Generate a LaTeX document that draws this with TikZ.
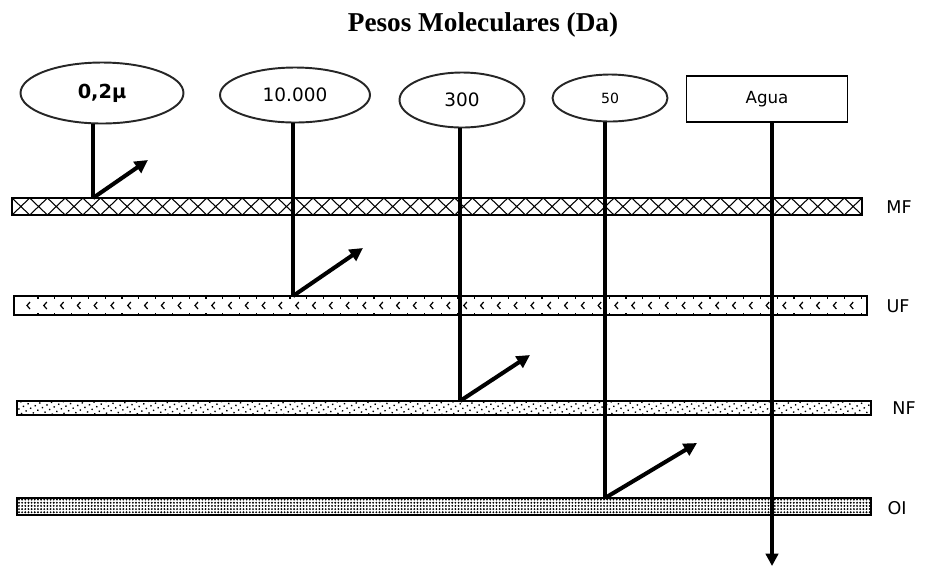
\documentclass[tikz,border=0pt]{standalone}
\usepackage{fontspec}
\setmainfont{DejaVu Sans}
\newfontfamily\titlefont{Liberation Serif}
\usetikzlibrary{shapes.geometric,arrows.meta,patterns.meta}

\begin{document}
\begin{tikzpicture}[x=0.02cm,y=-0.02cm,
  mol/.style={ellipse,draw=black!85,line width=1.1pt,inner sep=0pt},
  waterbox/.style={rectangle,draw=black,line width=1.1pt,inner sep=0pt},
  memb/.style={rectangle,draw=black,line width=1.1pt,inner sep=0pt},
  memlabel/.style={font=\fontsize{10}{12}\selectfont},
  stem/.style={line width=2pt},
  pass/.style={line width=2.3pt,-{Triangle[length=7.5pt,width=7.5pt]}}]
\useasboundingbox (0,0) rectangle (925,566);
\node [font=\titlefont\bfseries\fontsize{15.5}{18}\selectfont] (title) at (483,25) {Pesos Moleculares (Da)};
\node [mol,minimum width=3.26cm,minimum height=1.22cm,font=\bfseries\fontsize{11}{13}\selectfont] (m02) at (102,93) {0,2µ};
\node [mol,minimum width=3.0cm,minimum height=1.1cm,font=\fontsize{10.5}{12}\selectfont] (m10000) at (295,95) {10.000};
\node [mol,minimum width=2.5cm,minimum height=1.1cm,font=\fontsize{10.5}{12}\selectfont] (m300) at (462,100) {300};
\node [mol,minimum width=2.3cm,minimum height=0.94cm,font=\fontsize{8}{10}\selectfont] (m50) at (610,98) {50};
\node [waterbox,minimum width=3.22cm,minimum height=0.92cm,font=\fontsize{9.5}{11}\selectfont] (agua) at (767,99) {Agua};
\node [memb,minimum width=17cm,minimum height=0.34cm] (mf) at (437,206.5) {};
\foreach \i in {0,...,47}
  \draw [line width=0.6pt] (12+\i*17.708,198) -- ++(17.708,17) (12+\i*17.708,215) -- ++(17.708,-17);
\node [memb,minimum width=17.06cm,minimum height=0.38cm] (uf) at (440.5,305.5) {};
\foreach \i in {0,...,49} {
  \draw [line width=0.7pt] (30+\i*16.8,302) -- ++(-3,3.5) -- ++(3,3.5);
  \draw [line width=0.7pt] (38+\i*16.8,296) -- ++(0,2.5) (38+\i*16.8,315) -- ++(0,-2.5);
}
\node [memb,pattern={Dots[distance=3pt,radius=0.55pt,angle=30]},minimum width=17.08cm,minimum height=0.28cm] (nf) at (444,408) {};
\node [memb,pattern={Dots[distance=1.8pt,radius=0.6pt]},minimum width=17.08cm,minimum height=0.34cm] (oi) at (444,506.5) {};
\node [memlabel] (lmf) at (899,207) {MF};
\node [memlabel] (luf) at (898,306) {UF};
\node [memlabel] (lnf) at (904,408) {NF};
\node [memlabel] (loi) at (897,508) {OI};
\coordinate (s1) at (93,198);
\coordinate (s2) at (293,296);
\coordinate (s3) at (460,401);
\coordinate (s4) at (605,498);
\coordinate (t1) at (148,160);
\coordinate (t2) at (363,248);
\coordinate (t3) at (530,355);
\coordinate (t4) at (697,443);
\coordinate (t5) at (772,566);
\draw [stem] (s1 |- m02.south) -- (s1);
\draw [stem] (s2 |- m10000.south) -- (s2);
\draw [stem] (s3 |- m300.south) -- (s3);
\draw [stem] (s4 |- m50.south) -- (s4);
\draw [pass] (s1) -- (t1);
\draw [pass] (s2) -- (t2);
\draw [pass] (s3) -- (t3);
\draw [pass] (s4) -- (t4);
\draw [stem,-{Triangle[length=7pt,width=7pt]}] (t5 |- agua.south) -- (t5);
\end{tikzpicture}
\end{document}
